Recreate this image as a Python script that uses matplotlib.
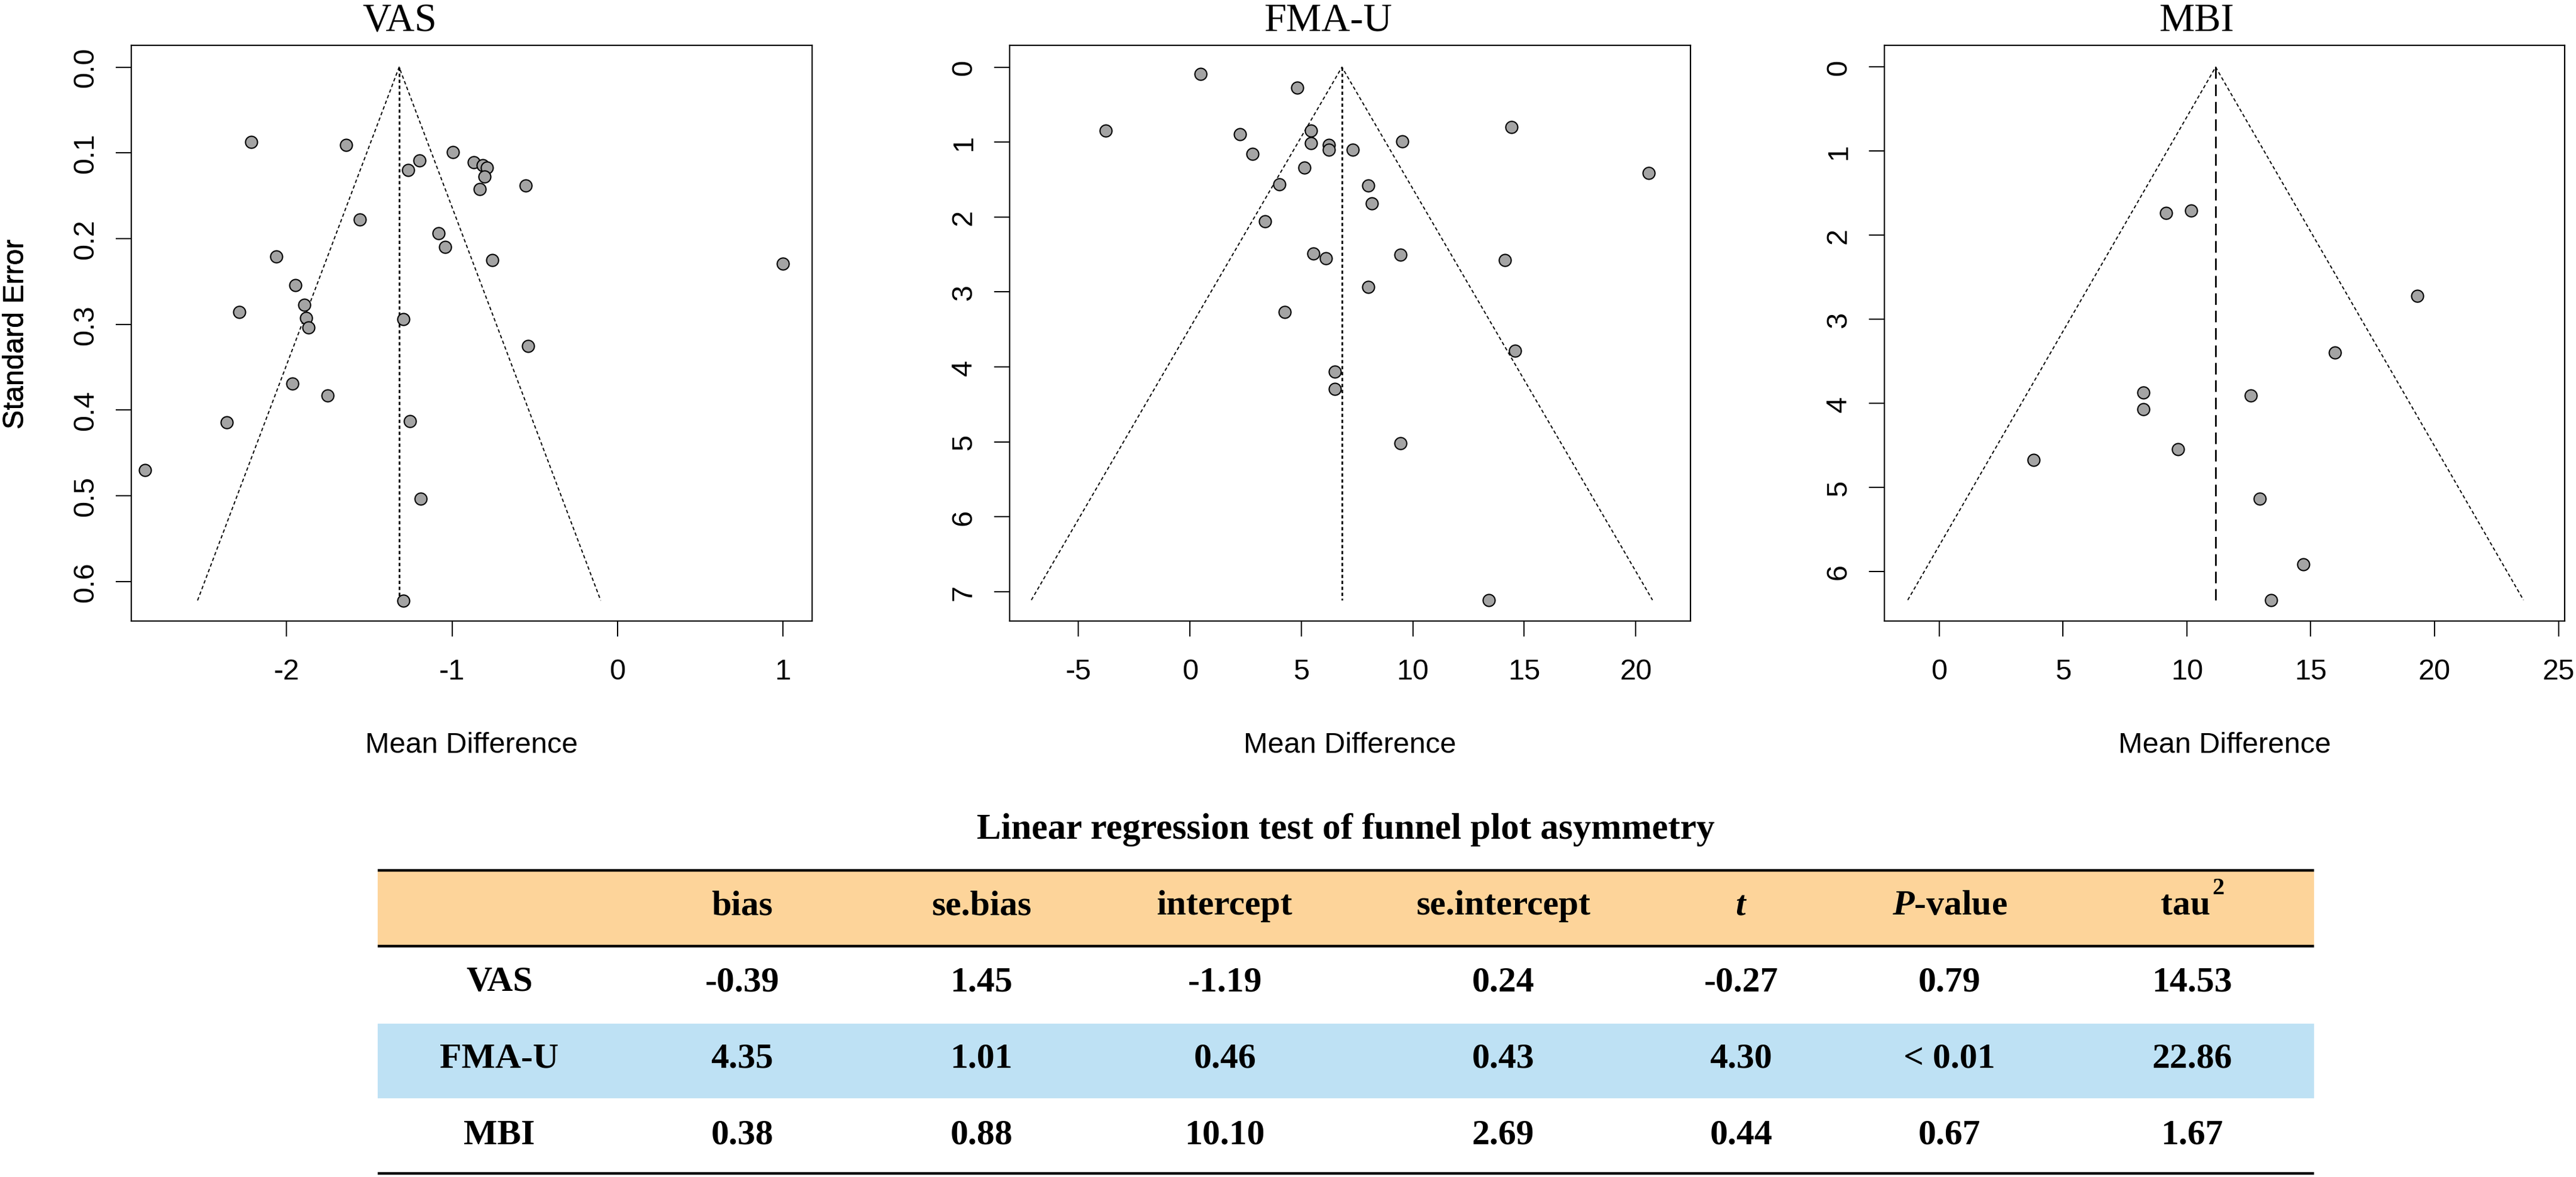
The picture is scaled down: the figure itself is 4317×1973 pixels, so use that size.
import matplotlib.pyplot as plt

plt.rcParams['font.family'] = ['Liberation Sans', 'DejaVu Sans']
plt.rcParams['axes.unicode_minus'] = False
plt.rcParams['mathtext.fontset'] = 'custom'
plt.rcParams['mathtext.rm'] = 'Liberation Serif:bold'
plt.rcParams['mathtext.it'] = 'Liberation Serif:italic:bold'
plt.rcParams['mathtext.bf'] = 'Liberation Serif:bold'

# ---- funnel plot data (mean difference, standard error) ----
vas_md = [-2.215, -1.641, -0.993, -1.198, -1.265, -0.869, -0.815, -0.789, -0.802, -0.832,
          -0.554, -1.557, -1.081, -1.040, -2.064, -0.758, 1.0, -1.946, -1.893, -2.285,
          -1.883, -1.869, -1.295, -0.540, -1.966, -1.752, -2.362, -1.255, -2.856, -1.188,
          -1.295]
vas_se = [0.087, 0.091, 0.099, 0.109, 0.120, 0.111, 0.1145, 0.117, 0.128, 0.142,
          0.138, 0.1775, 0.194, 0.210, 0.221, 0.2254, 0.2295, 0.254, 0.277, 0.2855,
          0.2925, 0.304, 0.294, 0.325, 0.369, 0.383, 0.4145, 0.4127, 0.470, 0.5035,
          0.622]
vas_pooled = -1.32

fma_md = [0.47, 4.81, -3.78, 2.24, 5.43, 14.42, 5.43, 6.23, 6.23, 7.30,
          9.54, 2.81, 5.13, 20.59, 4.01, 7.99, 8.17, 3.36, 5.53, 6.10,
          9.46, 14.12, 7.99, 4.26, 14.59, 6.50, 6.50, 9.46, 13.42]
fma_se = [0.093, 0.278, 0.846, 0.892, 0.846, 0.80, 1.018, 1.038, 1.104, 1.104,
          0.991, 1.157, 1.342, 1.414, 1.56, 1.58, 1.818, 2.056, 2.485, 2.551,
          2.505, 2.578, 2.935, 3.265, 3.787, 4.065, 4.29, 5.016, 7.11]
fma_pooled = 6.82

mbi_md = [9.15, 10.16, 19.31, 15.98, 8.24, 8.24, 12.59, 9.64, 3.82, 12.95, 14.69, 13.39]
mbi_se = [1.732, 1.709, 2.722, 3.394, 3.872, 4.072, 3.907, 4.543, 4.673, 5.133, 5.916, 6.34]
mbi_pooled = 11.16

panel_names = ['VAS', 'FMA-U', 'MBI']
panel_xlim = [(-2.94, 1.178), (-8.09, 22.46), (-2.21, 25.25)]
panel_ylim = [(0.646, -0.0254), (7.39, -0.291), (6.59, -0.259)]
panel_xticks = [[-2, -1, 0, 1], [-5, 0, 5, 10, 15, 20], [0, 5, 10, 15, 20, 25]]
panel_yticks = [[0.0, 0.1, 0.2, 0.3, 0.4, 0.5, 0.6], [0, 1, 2, 3, 4, 5, 6, 7], [0, 1, 2, 3, 4, 5, 6]]
panel_yfmt = ['{:.1f}', '{:.0f}', '{:.0f}']

# ---- regression table ----
tab_title = 'Linear regression test of funnel plot asymmetry'
tab_header = ['', 'bias', 'se.bias', 'intercept', 'se.intercept', '$t$', '$P$-value', 'tau']
tab_rows = ['VAS', 'FMA-U', 'MBI']
bias = ['-0.39', '4.35', '0.38']
se_bias = ['1.45', '1.01', '0.88']
intercept = ['-1.19', '0.46', '10.10']
se_intercept = ['0.24', '0.43', '2.69']
t_val = ['-0.27', '4.30', '0.44']
p_val = ['0.79', '< 0.01', '0.67']
tau2 = ['14.53', '22.86', '1.67']

W, H = 4317, 1974
fig = plt.figure(figsize=(W / 100, H / 100), dpi=100)

boxes = [(220, 1361), (1692, 2833), (3158, 4298)]
box_top, box_bot = 77, 1042
title_x = [670, 2225, 3681]

data = [(vas_md, vas_se, vas_pooled), (fma_md, fma_se, fma_pooled), (mbi_md, mbi_se, mbi_pooled)]
vstyles = [(0, (2.0, 1.6)), (0, (2.0, 1.6)), (0, (7, 3.5))]

for i, (md, se, pooled) in enumerate(data):
    l, r = boxes[i]
    ax = fig.add_axes([l / W, 1 - box_bot / H, (r - l) / W, (box_bot - box_top) / H])
    se_max = max(se)
    ax.plot([pooled - 1.96 * se_max, pooled, pooled + 1.96 * se_max], [se_max, 0, se_max],
            color='black', lw=1.4, ls=(0, (3, 2.2)))
    ax.plot([pooled, pooled], [0, se_max], color='black', lw=2.0, ls=vstyles[i])
    ax.plot(md, se, 'o', ls='none', ms=14.5, mfc='#A4A4A4', mec='black', mew=1.5, zorder=3)
    ax.set_xlim(panel_xlim[i])
    ax.set_ylim(panel_ylim[i])
    ax.set_xticks(panel_xticks[i])
    ax.set_yticks(panel_yticks[i])
    ax.set_yticklabels([panel_yfmt[i].format(v) for v in panel_yticks[i]])
    ax.tick_params(length=19, width=1.5, labelsize=35, color='black')
    ax.tick_params(axis='x', pad=26)
    ax.tick_params(axis='y', pad=20, labelrotation=90)
    for lab in ax.get_yticklabels():
        lab.set_va('center')
    for s in ax.spines.values():
        s.set_linewidth(1.6)
    ax.set_xlabel('Mean Difference', fontsize=35, va='center')
    ax.set_ylabel('Standard Error', fontsize=35, va='center')
    ax.xaxis.set_label_coords(0.5, -(1250 - box_bot) / (box_bot - box_top))
    ax.yaxis.set_label_coords(-(l - 27) / (r - l), 0.5)
    fig.text(title_x[i] / W, 1 - 52 / H, panel_names[i], family='Liberation Serif',
             fontsize=48, ha='center', va='baseline')

# table drawn in pixel coordinates of the figure
tab = fig.add_axes([0, 0, 1, 1])
tab.set_xlim(0, W)
tab.set_ylim(H, 0)
tab.axis('off')

tab_l, tab_r = 633, 3878
col_x = [837, 1244, 1645, 2053, 2519, 2918, 3267, 3663]
row_base = [1661, 1790, 1918]

tab.fill_between([tab_l, tab_r], 1460, 1587, color='#FDD49A', lw=0)
tab.fill_between([tab_l, tab_r], 1717, 1842, color='#BEE1F4', lw=0)
for y in (1460, 1587, 1968):
    tab.plot([tab_l, tab_r], [y, y], color='black', lw=3.2, solid_capstyle='butt')

tfont = dict(family='Liberation Serif', fontweight='bold', fontsize=43, ha='center', va='baseline')
tab.text((tab_l + tab_r) / 2, 1406, tab_title, **dict(tfont, fontsize=44))
for c, h in enumerate(tab_header):
    tab.text(col_x[c], 1533, h, **tfont)
# raised superscript of tau^2
tab.text(3717, 1499, '2', **dict(tfont, fontsize=29))

cols = [tab_rows, bias, se_bias, intercept, se_intercept, t_val, p_val, tau2]
num_x = col_x[:-1] + [3674]
for c, vals in enumerate(cols):
    for r, v in enumerate(vals):
        tab.text(num_x[c], row_base[r], v, **tfont)

fig.savefig('out.png', dpi=100)
